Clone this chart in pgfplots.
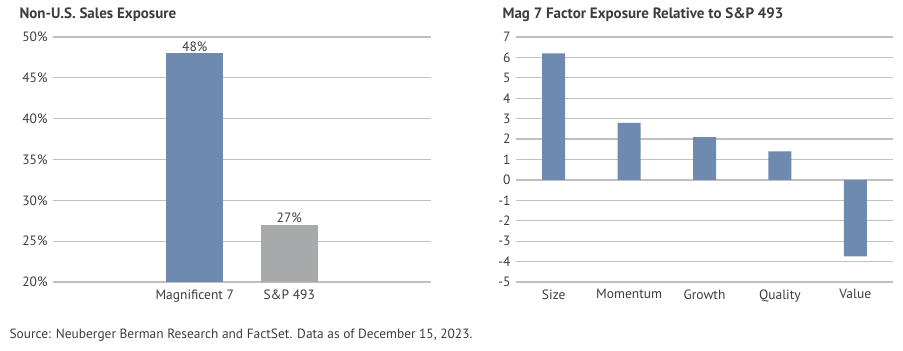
\documentclass[border=0pt]{standalone}
\usepackage{fontspec}
\setmainfont{PT Sans}
\usepackage{pgfplots}
\pgfplotsset{compat=1.18}
\definecolor{barblue}{HTML}{6F8AB0}
\definecolor{bargray}{HTML}{A8A9AB}
\definecolor{gridgray}{HTML}{C0C0C0}
\definecolor{txt}{HTML}{3C3C3C}
\begin{document}
\begin{tikzpicture}
\useasboundingbox (0pt,-351pt) rectangle (903pt,0pt);
\pgfplotsset{
  common/.style={
    scale only axis,
    axis line style={draw=none},
    major tick length=0pt,
    ymajorgrids,
    grid style={gridgray, line width=1.3pt},
    tick label style={font=\fontsize{13.5}{15}\selectfont, text=txt},
    /pgf/number format/assume math mode=true,
    yticklabel style={xshift=-2pt},
    xticklabel style={yshift=-4pt},
  }
}
\node[anchor=west, font=\bfseries\fontsize{15}{17}\selectfont, text=txt] at (16pt,-15pt) {Non-U.S. Sales Exposure};
\node[anchor=west, font=\bfseries\fontsize{15}{17}\selectfont, text=txt] at (499pt,-15pt) {Mag 7 Factor Exposure Relative to S\&P 493};
\node[anchor=west, font=\fontsize{13.4}{15}\selectfont, text=txt] at (6pt,-335pt) {Source: Neuberger Berman Research and FactSet. Data as of December 15, 2023.};
\begin{axis}[common,
  at={(53pt,-282pt)}, anchor=south west,
  width=378pt, height=245pt,
  xmin=-1.5, xmax=2.5, ymin=20, ymax=50,
  ytick={20,25,30,35,40,45,50},
  yticklabel={\pgfmathprintnumber{\tick}\%},
  xtick={0,1}, xticklabels={Magnificent 7, S\&P 493},
  ybar, bar width=57pt, bar shift=0pt,
  nodes near coords={\pgfmathprintnumber{\pgfplotspointmeta}\%},
  nodes near coords style={font=\fontsize{13.5}{15}\selectfont, text=txt, inner sep=1.5pt},
]
\addplot[fill=barblue, draw=none] coordinates {(0,48)};
\addplot[fill=bargray, draw=none] coordinates {(1,27)};
\end{axis}
\begin{axis}[common,
  at={(516pt,-282pt)}, anchor=south west,
  width=377pt, height=245pt,
  xmin=-0.5, xmax=4.5, ymin=-5, ymax=7,
  ytick={-5,-4,...,7},
  xtick={0,1,2,3,4}, xticklabels={Size, Momentum, Growth, Quality, Value},
  ybar, bar width=23pt, bar shift=0pt,
]
\addplot[fill=barblue, draw=none] coordinates {(0,6.2) (1,2.8) (2,2.1) (3,1.4) (4,-3.75)};
\end{axis}
\end{tikzpicture}
\end{document}
